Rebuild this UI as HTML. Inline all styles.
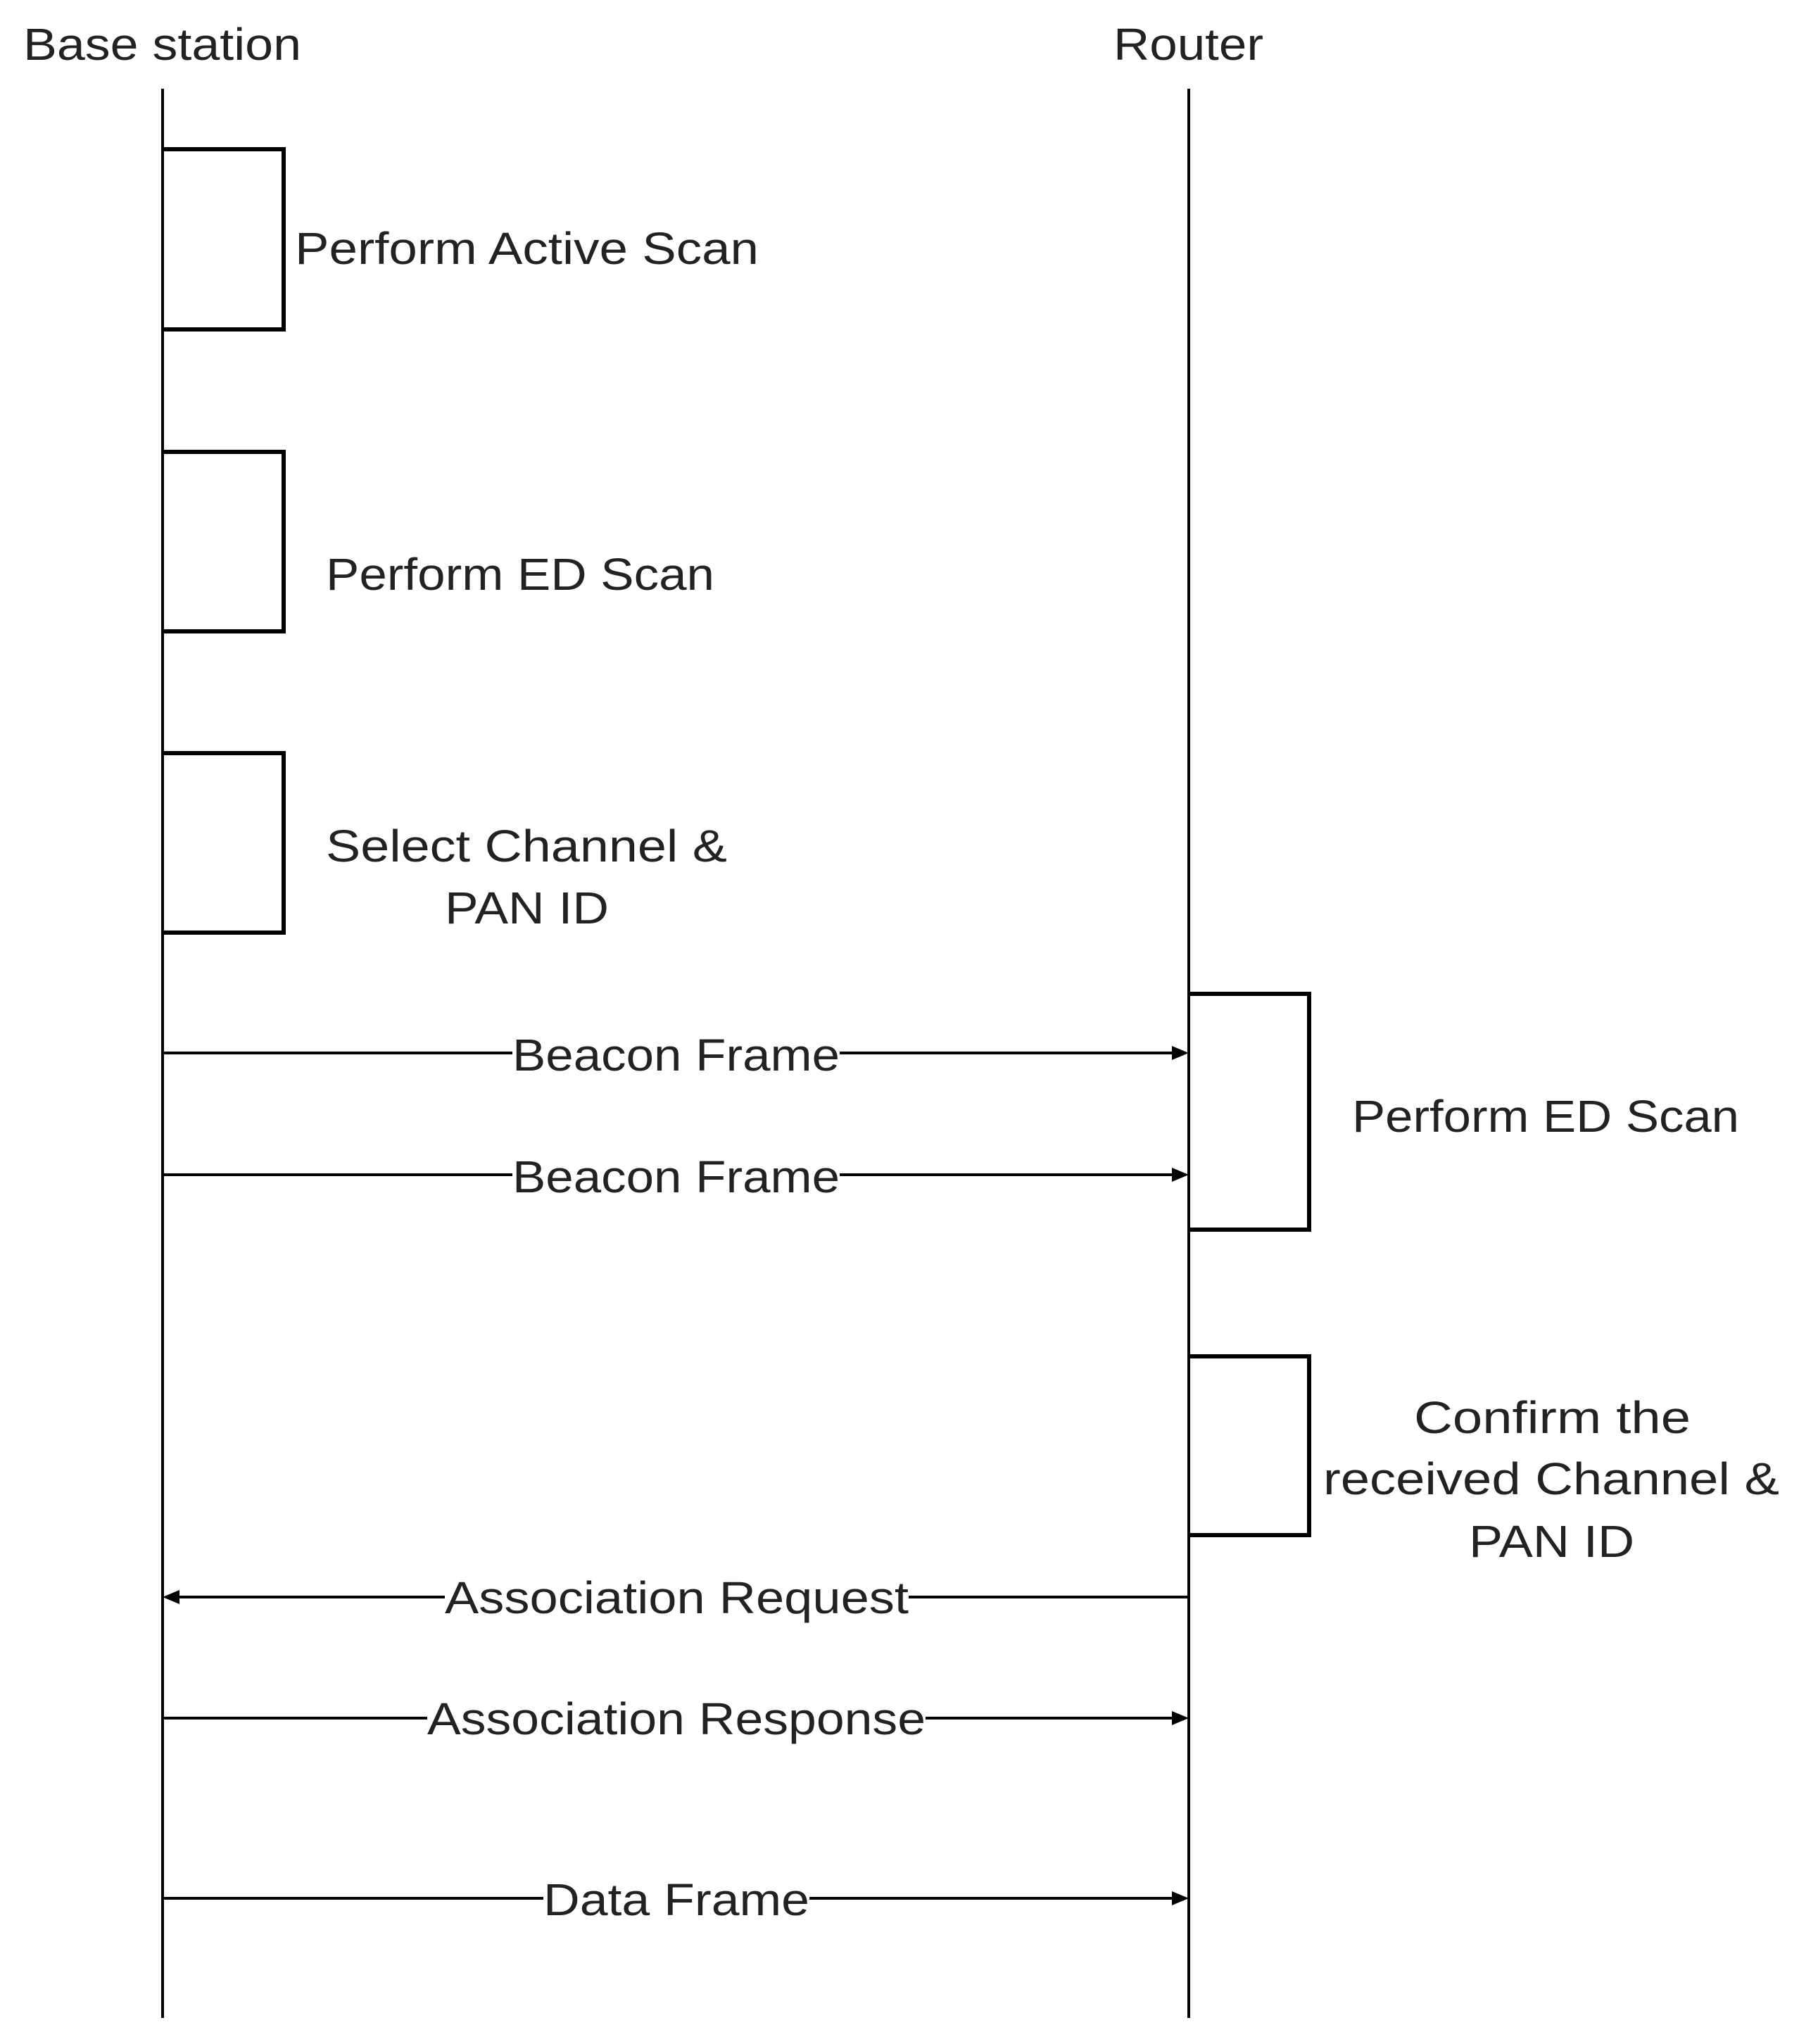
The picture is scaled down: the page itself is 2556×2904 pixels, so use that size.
<!DOCTYPE html>
<html><head><meta charset="utf-8"><style>
html,body{margin:0;padding:0;background:#fff;}
svg{display:block;}
text{font-family:"Liberation Sans","Noto Sans CJK KR",sans-serif;fill:#222;font-size:64px;}
</style></head><body>
<svg width="2556" height="2904" viewBox="0 0 2556 2904" xmlns="http://www.w3.org/2000/svg">
<rect width="2556" height="2904" fill="#fff"/>
<g stroke="#000" fill="none">
<line x1="231" y1="126" x2="231" y2="2867" stroke-width="4"/>
<line x1="1689" y1="126" x2="1689" y2="2867" stroke-width="4"/>
<g stroke-width="6">
<polyline points="231,212 403,212 403,468 231,468"/>
<polyline points="231,642 403,642 403,897 231,897"/>
<polyline points="231,1070 403,1070 403,1325 231,1325"/>
<polyline points="1689,1412 1860,1412 1860,1747 1689,1747"/>
<polyline points="1689,1927 1860,1927 1860,2181 1689,2181"/>
</g>
<g stroke-width="4">
<line x1="231" y1="1496" x2="728" y2="1496"/><line x1="1193" y1="1496" x2="1668" y2="1496"/>
<line x1="231" y1="1669" x2="728" y2="1669"/><line x1="1193" y1="1669" x2="1668" y2="1669"/>
<line x1="252" y1="2269" x2="632" y2="2269"/><line x1="1291" y1="2269" x2="1689" y2="2269"/>
<line x1="231" y1="2441" x2="607" y2="2441"/><line x1="1315" y1="2441" x2="1668" y2="2441"/>
<line x1="231" y1="2697" x2="772" y2="2697"/><line x1="1150" y1="2697" x2="1668" y2="2697"/>
</g>
</g>
<g fill="#000">
<polygon points="1689,1496 1665,1486 1665,1506"/>
<polygon points="1689,1669 1665,1659 1665,1679"/>
<polygon points="231,2269 255,2259 255,2279"/>
<polygon points="1689,2441 1665,2431 1665,2451"/>
<polygon points="1689,2697 1665,2687 1665,2707"/>
</g>
<text x="33" y="85" textLength="395" lengthAdjust="spacingAndGlyphs">Base station</text>
<text x="1582" y="85" textLength="213" lengthAdjust="spacingAndGlyphs">Router</text>
<text x="419" y="375" textLength="659" lengthAdjust="spacingAndGlyphs">Perform Active Scan</text>
<text x="463" y="838" textLength="552" lengthAdjust="spacingAndGlyphs">Perform ED Scan</text>
<text x="463" y="1224" textLength="570" lengthAdjust="spacingAndGlyphs">Select Channel &amp;</text>
<text x="632" y="1312" textLength="233" lengthAdjust="spacingAndGlyphs">PAN ID</text>
<text x="728" y="1521" textLength="465" lengthAdjust="spacingAndGlyphs">Beacon Frame</text>
<text x="728" y="1694" textLength="465" lengthAdjust="spacingAndGlyphs">Beacon Frame</text>
<text x="1921" y="1608" textLength="550" lengthAdjust="spacingAndGlyphs">Perform ED Scan</text>
<text x="2009" y="2036" textLength="393" lengthAdjust="spacingAndGlyphs">Confirm the</text>
<text x="1880" y="2123" textLength="648" lengthAdjust="spacingAndGlyphs">received Channel &amp;</text>
<text x="2087" y="2212" textLength="235" lengthAdjust="spacingAndGlyphs">PAN ID</text>
<text x="632" y="2292" textLength="659" lengthAdjust="spacingAndGlyphs">Association Request</text>
<text x="607" y="2464" textLength="708" lengthAdjust="spacingAndGlyphs">Association Response</text>
<text x="772" y="2721" textLength="378" lengthAdjust="spacingAndGlyphs">Data Frame</text>
</svg>
</body></html>
